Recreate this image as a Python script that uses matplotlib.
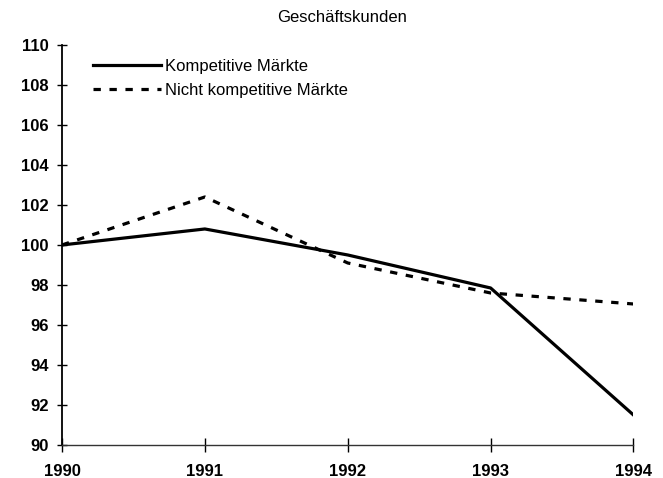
import matplotlib
matplotlib.use("Agg")
import matplotlib.pyplot as plt

plt.rcParams['font.family'] = ['Liberation Sans', 'DejaVu Sans']

# Werte (Index 1990 = 100)
jahre = [1990, 1991, 1992, 1993, 1994]
kompetitiv = [100.0, 100.8, 99.5, 97.85, 91.5]
nicht_kompetitiv = [100.0, 102.4, 99.1, 97.6, 97.05]
y_ticks = list(range(90, 111, 2))

fig = plt.figure(figsize=(6.63, 4.78), dpi=100)
ax = fig.add_axes([0.0935, 0.069, 0.862, 0.837])

ax.plot(jahre, kompetitiv, color='black', lw=2.3, solid_joinstyle='round',
        label='Kompetitive Märkte')
ax.plot(jahre, nicht_kompetitiv, color='black', lw=2.3, ls=(0, (2.3, 2.7)),
        label='Nicht kompetitive Märkte')

ax.set_xlim(1990, 1994)
ax.set_ylim(90, 110)
ax.set_xticks(jahre)
ax.set_yticks(y_ticks)
ax.tick_params(axis='both', direction='inout', width=1, labelsize=12)
ax.tick_params(axis='y', length=7, pad=6)
ax.tick_params(axis='x', length=10, pad=9)
for lbl in ax.get_xticklabels() + ax.get_yticklabels():
    lbl.set_fontweight('bold')

ax.spines['top'].set_visible(False)
ax.spines['right'].set_visible(False)
ax.spines['left'].set_linewidth(1.3)
ax.spines['bottom'].set_linewidth(1.0)
ax.spines['bottom'].set_color('#333333')

fig.text(342 / 663, 1 - 18 / 478, 'Geschäftskunden', fontsize=12,
         ha='center', va='center')

ax.legend(loc='upper left', bbox_to_anchor=(0.054, 0.965), frameon=False,
          fontsize=12, handlelength=4.1, handletextpad=0.25,
          labelspacing=0.55, borderaxespad=0.0, borderpad=0.0)

fig.savefig('out.png', dpi=100)
